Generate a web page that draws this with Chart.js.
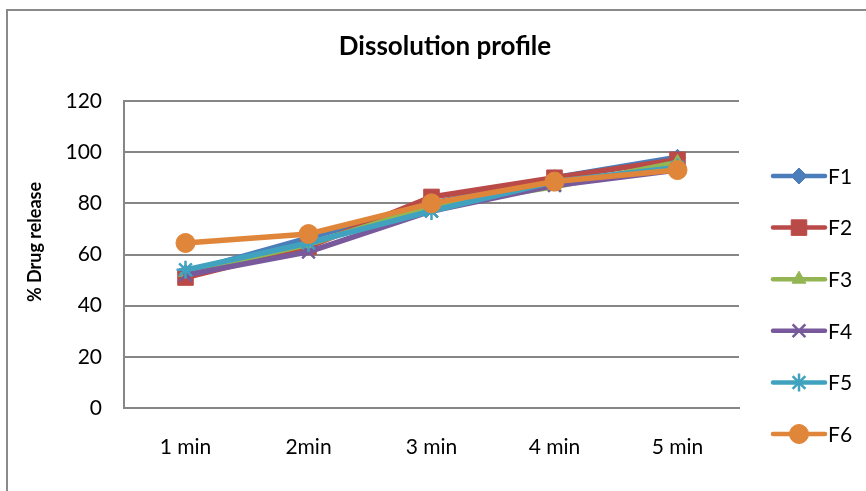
<!DOCTYPE html>
<html>
<head>
<meta charset="utf-8">
<script src="https://cdn.jsdelivr.net/npm/chart.js@4/dist/chart.umd.min.js"></script>
<style>
  html, body { margin: 0; padding: 0; background: #fff; }
  #wrap { width: 866px; height: 491px; }
</style>
</head>
<body>
<div id="wrap"><canvas id="mycanvas" width="866" height="491"></canvas></div>
<script>
// values
var categories = ["1 min", "2min", "3 min", "4 min", "5 min"];
var seriesNames = ["F1", "F2", "F3", "F4", "F5", "F6"];
var f1 = [53, 66.5, 80, 90, 98];
var f2 = [51, 63, 82.5, 90, 97];
var f3 = [53, 64, 79, 86.5, 96];
var f4 = [52, 61, 77, 87, 93];
var f5 = [54, 64.5, 77, 88.5, 94];
var f6 = [64.5, 68, 80, 88.5, 93];
var yTicks = [0, 20, 40, 60, 80, 100, 120];
var chartTitle = "Dissolution profile";
var yTitle = "% Drug release";

var allValues = [f1, f2, f3, f4, f5, f6];
var colors = ["#4A7DBA", "#BA4A47", "#93B653", "#77599C", "#41A2BF", "#E0863A"];
var markers = ["rectRot", "rect", "triangle", "crossRot", "star", "circle"];
var radii = [8, 11, 8, 9, 9, 9.5];

var fontFam = "Lato, 'Open Sans', sans-serif";

var datasets = [];
for (var i = 0; i < seriesNames.length; i++) {
  var filled = markers[i] != "crossRot" && markers[i] != "star";
  datasets.push({
    label: seriesNames[i],
    data: allValues[i],
    borderColor: colors[i],
    backgroundColor: colors[i],
    borderWidth: 5.5,
    pointStyle: markers[i],
    pointRadius: radii[i],
    pointHoverRadius: radii[i],
    pointBorderWidth: filled ? 1 : 2.5,
    pointBorderColor: colors[i],
    pointBackgroundColor: colors[i],
    tension: 0,
    order: seriesNames.length - i  // F6 on top, like the picture
  });
}

// white page + grey outer frame + titles
var framePlugin = {
  id: 'frame',
  beforeDraw: function(chart) {
    var ctx = chart.ctx;
    ctx.save();
    ctx.fillStyle = "#fff";
    ctx.fillRect(0, 0, chart.width, chart.height);
    ctx.strokeStyle = "#8a8a8a";
    ctx.lineWidth = 2;
    ctx.strokeRect(7, 10, chart.width + 20, chart.height + 20);
    ctx.restore();
  },
  afterDraw: function(chart) {
    var ctx = chart.ctx;
    ctx.save();
    ctx.fillStyle = "#000";
    ctx.textAlign = "center";
    ctx.textBaseline = "middle";
    ctx.font = "bold 26px " + fontFam;
    ctx.fillText(chartTitle, 445, 47);
    ctx.translate(35, 242);
    ctx.rotate(-Math.PI / 2);
    ctx.font = "bold 18px " + fontFam;
    ctx.fillText(yTitle, 0, 0);
    ctx.restore();
  }
};

// legend drawn as line + marker, Excel style
var legendPlugin = {
  id: 'lineLegend',
  afterDraw: function(chart) {
    var ctx = chart.ctx;
    var x0 = 773, x1 = 825, top = 176, step = 51.6;
    ctx.save();
    chart.data.datasets.forEach(function(ds, i) {
      var y = top + i * step;
      ctx.strokeStyle = ds.borderColor;
      ctx.lineWidth = 4.5;
      ctx.lineCap = "round";
      ctx.beginPath();
      ctx.moveTo(x0, y);
      ctx.lineTo(x1, y);
      ctx.stroke();
      ctx.fillStyle = ds.backgroundColor;
      ctx.lineWidth = ds.pointBorderWidth;
      ctx.lineCap = "butt";
      Chart.helpers.drawPoint(ctx, {
        pointStyle: ds.pointStyle,
        radius: ds.pointRadius,
        borderWidth: ds.pointBorderWidth,
        rotation: 0
      }, (x0 + x1) / 2, y);
      ctx.fillStyle = "#000";
      ctx.font = "21px " + fontFam;
      ctx.textBaseline = "middle";
      ctx.textAlign = "left";
      ctx.fillText(ds.label, x1 + 3, y + 1);
    });
    ctx.restore();
  }
};

var ctx = document.getElementById("mycanvas");
var lineGraph = new Chart(ctx, {
  type: 'line',
  data: { labels: categories, datasets: datasets },
  plugins: [framePlugin, legendPlugin],
  options: {
    responsive: false,
    animation: false,
    devicePixelRatio: 1,
    layout: { padding: { left: 20, right: 127, top: 101, bottom: 0 } },
    plugins: {
      legend: { display: false },
      tooltip: { enabled: false },
      title: { display: false }
    },
    scales: {
      x: {
        offset: true,
        grid: { display: false, drawTicks: false },
        border: { display: true, color: '#868686', width: 2 },
        ticks: { color: '#000', font: { family: fontFam, size: 21 }, padding: 27, maxRotation: 0 },
        afterFit: function(scale) { scale.height = 83; }
      },
      y: {
        min: 0,
        max: 120,
        afterBuildTicks: function(scale) {
          scale.ticks = yTicks.map(function(v) { return { value: v }; });
        },
        grid: { color: '#868686', lineWidth: 2, drawTicks: false },
        border: { display: true, color: '#868686', width: 2 },
        ticks: { color: '#000', font: { family: fontFam, size: 21 }, padding: 22 },
        afterFit: function(scale) { scale.width = 104; }
      }
    }
  }
});
</script>
</body>
</html>
